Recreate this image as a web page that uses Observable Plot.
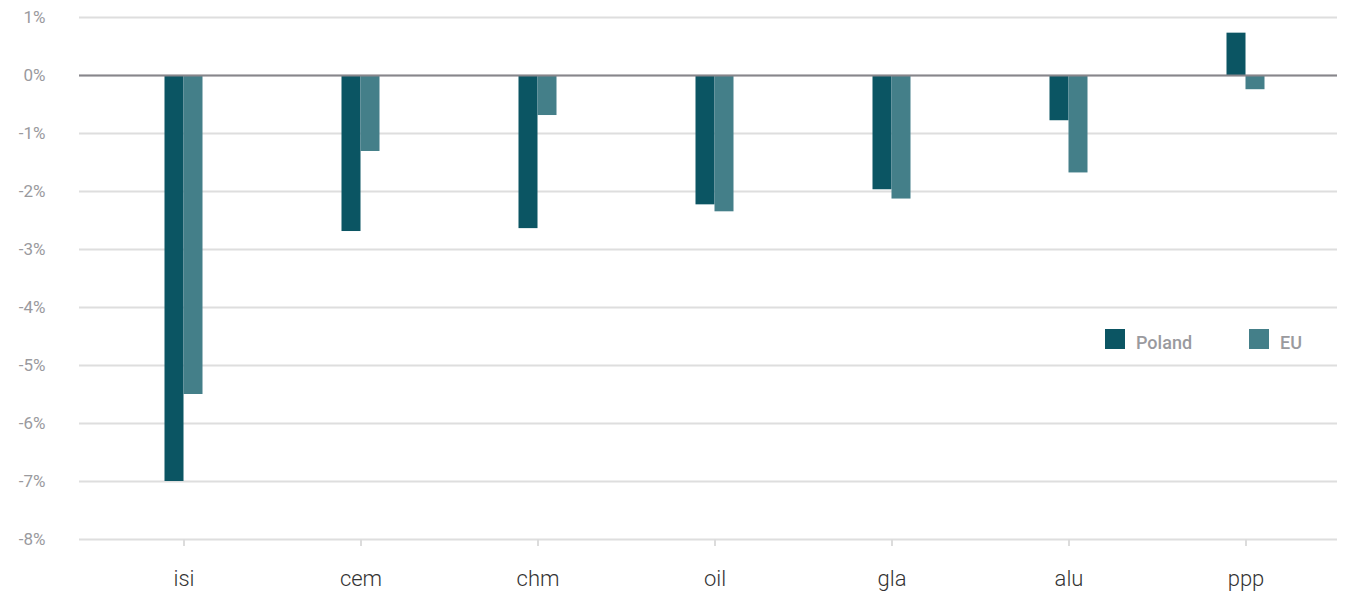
<!DOCTYPE html>
<html>
<head>
<meta charset="utf-8">
<script src="https://cdn.jsdelivr.net/npm/d3@7"></script>
<script src="https://cdn.jsdelivr.net/npm/@observablehq/plot@0.6"></script>
<style>
  html, body { margin: 0; padding: 0; background: #fff; }
  #wrap { position: relative; width: 1346px; height: 592px; font-family: Roboto, sans-serif; }
  .lg { position: absolute; display: flex; align-items: center; font-size: 18px; font-weight: 500; color: #9a9a9e; }
  .sw { width: 20px; height: 20px; margin-right: 11px; }
  .lt { position: relative; top: 3px; }
</style>
</head>
<body>
<div id="wrap"></div>
<script>
const categories = ["isi", "cem", "chm", "oil", "gla", "alu", "ppp"];
const poland = [-7.0, -2.69, -2.64, -2.23, -1.97, -0.78, 0.73];
const eu = [-5.5, -1.31, -0.69, -2.35, -2.13, -1.68, -0.245];
const yTicks = [1, 0, -1, -2, -3, -4, -5, -6, -7, -8];
const seriesNames = ["Poland", "EU"];
const seriesColors = ["#0b5563", "#447f89"];

const chart = Plot.plot({
  width: 1346,
  height: 592,
  marginTop: 17,
  marginBottom: 53,
  marginLeft: 79,
  marginRight: 9,
  style: { fontFamily: "Roboto, sans-serif", background: "#fff" },
  x: { type: "band", domain: categories, paddingInner: 0.893, paddingOuter: 0.497, align: 0.537 },
  y: { domain: [-8, 1] },
  marks: [
    Plot.gridY(yTicks, { stroke: "#dedede", strokeOpacity: 1, strokeWidth: 2 }),
    Plot.axisY(yTicks, {
      tickSize: 0, tickPadding: 34, fontSize: 17, fill: "#9a9a9e",
      tickFormat: d => d + "%", label: null
    }),
    Plot.axisX({
      tickSize: 7, tickPadding: 24, fontSize: 22, fontWeight: 300, fill: "#333",
      stroke: "#dcdcdc", strokeWidth: 2, label: null
    }),
    Plot.barY(categories, { x: d => d, y: poland, fill: seriesColors[0], dx: -9.5 }),
    Plot.barY(categories, { x: d => d, y: eu, fill: seriesColors[1], dx: 9.5 }),
    Plot.ruleY([0], { stroke: "#87868b", strokeWidth: 2 })
  ]
});

const wrap = document.getElementById("wrap");
wrap.appendChild(chart);

const legendPos = [1105, 1249];
seriesNames.forEach((name, i) => {
  const item = document.createElement("div");
  item.className = "lg";
  item.style.left = legendPos[i] + "px";
  item.style.top = "329px";
  item.style.height = "20px";
  const sw = document.createElement("span");
  sw.className = "sw";
  sw.style.background = seriesColors[i];
  item.appendChild(sw);
  const t = document.createElement("span");
  t.className = "lt";
  t.textContent = name;
  item.appendChild(t);
  wrap.appendChild(item);
});
</script>
</body>
</html>
